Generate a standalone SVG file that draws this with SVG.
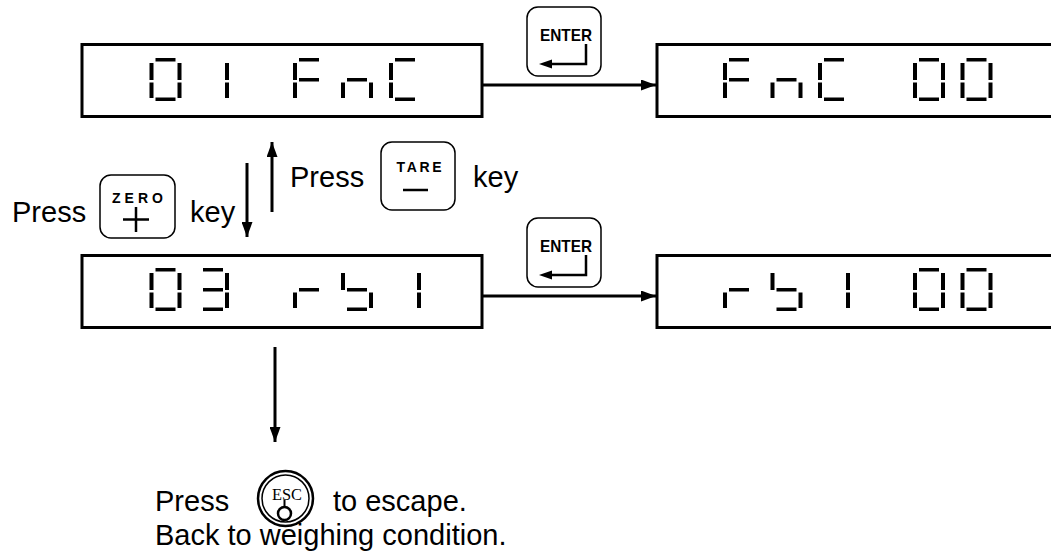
<svg xmlns="http://www.w3.org/2000/svg" xmlns:xlink="http://www.w3.org/1999/xlink" width="1051" height="555" viewBox="0 0 1051 555">
<style>
.box{fill:#fff;stroke:#000;stroke-width:3}
.key{fill:#fff;stroke:#000;stroke-width:1.5}
.conn{fill:none;stroke:#000;stroke-width:3}
.txt{font-family:"Liberation Sans",Arial,sans-serif;font-size:29px;fill:#000}
.ktxt{font-family:"Liberation Sans",Arial,sans-serif;font-weight:bold;fill:#000;text-anchor:middle}
.seg{fill:#000}
</style>
<defs>
<marker id="ah" markerUnits="userSpaceOnUse" markerWidth="15" markerHeight="11" refX="15" refY="5.5" orient="auto">
<path d="M0,0 L15,5.5 L0,11 z" fill="#000"/>
</marker>
<rect id="sa" class="seg" x="6" y="0" width="20" height="3.5"/>
<rect id="sb" class="seg" x="28" y="5" width="4" height="17"/>
<rect id="sc" class="seg" x="28" y="24.5" width="4" height="15.5"/>
<rect id="sd" class="seg" x="6" y="39.5" width="20" height="3.5"/>
<rect id="se" class="seg" x="0" y="24.5" width="4" height="15.5"/>
<rect id="sf" class="seg" x="0" y="5" width="4" height="17"/>
<rect id="sg" class="seg" x="6" y="20" width="20" height="3.5"/>
<g id="d0"><use href="#sa"/><use href="#sb"/><use href="#sc"/><use href="#sd"/><use href="#se"/><use href="#sf"/></g>
<g id="d1"><use href="#sb"/><use href="#sc"/></g>
<g id="d3"><use href="#sa"/><use href="#sb"/><use href="#sg"/><use href="#sc"/><use href="#sd"/></g>
<g id="dF"><use href="#sa"/><use href="#sf"/><use href="#sg"/><use href="#se"/></g>
<g id="dn"><use href="#sg"/><use href="#se"/><use href="#sc"/></g>
<g id="dC"><use href="#sa"/><use href="#sf"/><use href="#se"/><use href="#sd"/></g>
<g id="dr"><use href="#sg"/><use href="#se"/></g>
<g id="db"><use href="#sf"/><use href="#sg"/><use href="#sc"/><use href="#sd"/></g>
</defs>
<rect width="1051" height="555" fill="#fff"/>

<g id="connectors">
<path class="conn" d="M482,85 H656" marker-end="url(#ah)"/>
<path class="conn" d="M482,296 H656" marker-end="url(#ah)"/>
<path class="conn" d="M247,163 V237" marker-end="url(#ah)"/>
<path class="conn" d="M272,212 V142" marker-end="url(#ah)"/>
<path class="conn" d="M275,347 V442" marker-end="url(#ah)"/>
</g>

<g id="display-01FnC">
<rect class="box" x="82" y="44.5" width="400" height="72"/>
<g transform="translate(0,58)">
<use href="#d0" x="149.5"/><use href="#d1" x="197"/><use href="#dF" x="293"/><use href="#dn" x="341"/><use href="#dC" x="389"/>
</g>
</g>

<g id="display-FnC00">
<rect class="box" x="657" y="44.5" width="400" height="72"/>
<g transform="translate(0,58)">
<use href="#dF" x="723"/><use href="#dn" x="770.5"/><use href="#dC" x="818"/><use href="#d0" x="913"/><use href="#d0" x="960.5"/>
</g>
</g>

<g id="display-03rb1">
<rect class="box" x="82" y="255.5" width="400" height="72"/>
<g transform="translate(0,268)">
<use href="#d0" x="149.5"/><use href="#d3" x="197"/><use href="#dr" x="293"/><use href="#db" x="341"/><use href="#d1" x="389"/>
</g>
</g>

<g id="display-rb100">
<rect class="box" x="657" y="255.5" width="400" height="72"/>
<g transform="translate(0,268)">
<use href="#dr" x="723"/><use href="#db" x="770.5"/><use href="#d1" x="818"/><use href="#d0" x="913"/><use href="#d0" x="960.5"/>
</g>
</g>

<g id="enter-key-1">
<rect class="key" x="527" y="7" width="74" height="69" rx="11"/>
<text class="ktxt" x="566" y="41" font-size="17" textLength="52" lengthAdjust="spacingAndGlyphs">ENTER</text>
<path d="M586,44 V64 H551" fill="none" stroke="#000" stroke-width="2.5"/>
<path d="M539,64 L552,59.5 L552,68.5 z" fill="#000"/>
</g>

<g id="enter-key-2">
<rect class="key" x="527" y="218" width="74" height="69" rx="11"/>
<text class="ktxt" x="566" y="252" font-size="17" textLength="52" lengthAdjust="spacingAndGlyphs">ENTER</text>
<path d="M586,255 V275 H551" fill="none" stroke="#000" stroke-width="2.5"/>
<path d="M539,275 L552,270.5 L552,279.5 z" fill="#000"/>
</g>

<g id="zero-label">
<text class="txt" x="12" y="222">Press</text>
<rect class="key" x="100" y="175" width="75" height="63" rx="11"/>
<text class="ktxt" x="137.5" y="203" font-size="14" textLength="51">ZERO</text>
<path d="M136,207 V232 M123,219.5 H149" stroke="#000" stroke-width="2.5"/>
<text class="txt" x="190" y="222">key</text>
</g>

<g id="tare-label">
<text class="txt" x="290" y="187">Press</text>
<rect class="key" x="381" y="142" width="74" height="68" rx="11"/>
<text class="ktxt" x="419" y="172" font-size="14" textLength="45">TARE</text>
<path d="M403,190 H428" stroke="#000" stroke-width="2.5"/>
<text class="txt" x="473" y="187">key</text>
</g>

<g id="escape-note">
<text class="txt" x="155" y="511">Press</text>
<circle cx="285.5" cy="498.5" r="27.5" fill="#fff" stroke="#000" stroke-width="2.5"/>
<circle cx="285.5" cy="498.5" r="23.5" fill="none" stroke="#000" stroke-width="1.5"/>
<text x="287" y="500" font-family="'Liberation Serif','Times New Roman',serif" font-size="17" text-anchor="middle" textLength="30" lengthAdjust="spacingAndGlyphs">ESC</text>
<circle cx="284.5" cy="513.5" r="6.5" fill="#fff" stroke="#000" stroke-width="2.5"/>
<path d="M284.5,500 V508" stroke="#000" stroke-width="2"/>
<text class="txt" x="333" y="511">to escape.</text>
<text class="txt" x="155" y="545">Back to weighing condition.</text>
</g>
</svg>
